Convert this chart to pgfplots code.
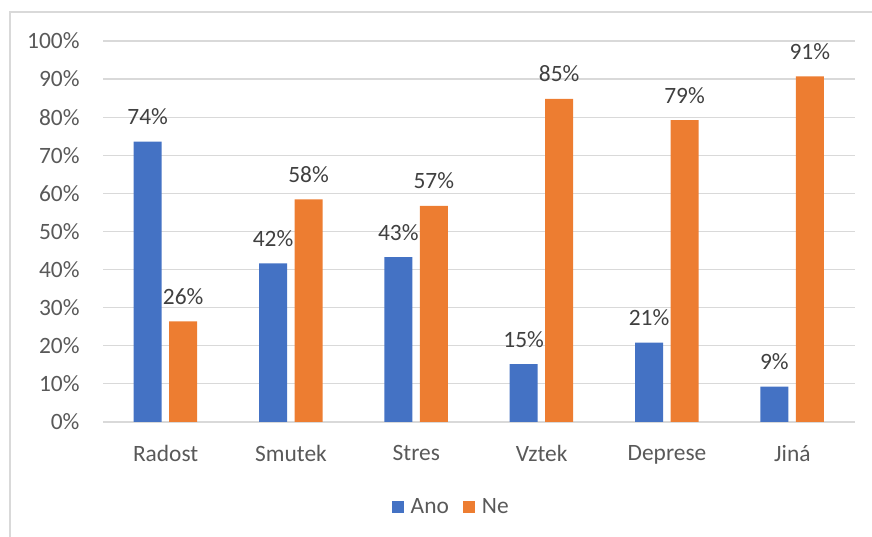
\documentclass[border=0pt]{standalone}
\usepackage{fontspec}
\setmainfont{Carlito}
\usepackage{pgfplots}
\pgfplotsset{compat=1.18}
\definecolor{ano}{HTML}{4472C4}
\definecolor{ne}{HTML}{ED7D31}
\definecolor{gridc}{HTML}{D9D9D9}
\definecolor{txt}{HTML}{595959}
\definecolor{lbl}{HTML}{404040}
\begin{document}
\begin{tikzpicture}[x=1bp,y=1bp]
\path[use as bounding box] (0,0) rectangle (872,537);
\draw[gridc, line width=1.5bp] (10,0) -- (10,525) -- (872,525);
\begin{axis}[
  at={(103bp,115bp)}, anchor=south west,
  scale only axis, width=752bp, height=381bp,
  ybar, bar width=28bp,
  xmin=-0.5, xmax=5.5, ymin=0, ymax=100,
  xtick={0,1,2,3,4,5},
  xticklabels={Radost,Smutek,Stres,Vztek,Deprese,Jiná},
  ytick={0,10,...,100},
  yticklabels={0\%,10\%,20\%,30\%,40\%,50\%,60\%,70\%,80\%,90\%,100\%},
  ymajorgrids, grid style={gridc, line width=1.2bp},
  axis x line*=bottom, axis y line*=left,
  x axis line style={gridc, line width=1.5bp, -},
  y axis line style={draw=none},
  major tick length=0pt,
  tick label style={font=\fontsize{23.5}{28}\selectfont, text=txt},
  xticklabel style={yshift=-20bp},
  yticklabel style={xshift=-20bp},
  point meta=explicit symbolic,
  nodes near coords={\pgfplotspointmeta\%},
  every node near coord/.append style={anchor=base, yshift=17bp, font=\fontsize{23.5}{28}\selectfont, text=lbl},
  legend columns=2,
  legend style={at={(rel axis cs:0.463,-0.223)}, anchor=center, draw=none, fill=none,
    font=\fontsize{23.5}{28}\selectfont, text=txt,
    /tikz/every even column/.append style={column sep=12bp}},
  legend image code/.code={\fill[#1] (0bp,-6bp) rectangle (12bp,6bp); \path (17bp,0);},
]
\addplot[fill=ano, draw=none, bar shift=-18bp] coordinates {
  (0,73.6) [74] (1,41.6) [42] (2,43.3) [43] (3,15.2) [15] (4,20.8) [21] (5,9.3) [9]
};
\addplot[fill=ne, draw=none, bar shift=17.5bp] coordinates {
  (0,26.4) [26] (1,58.4) [58] (2,56.7) [57] (3,84.8) [85] (4,79.2) [79] (5,90.7) [91]
};
\legend{Ano,Ne}
\end{axis}
\end{tikzpicture}
\end{document}
